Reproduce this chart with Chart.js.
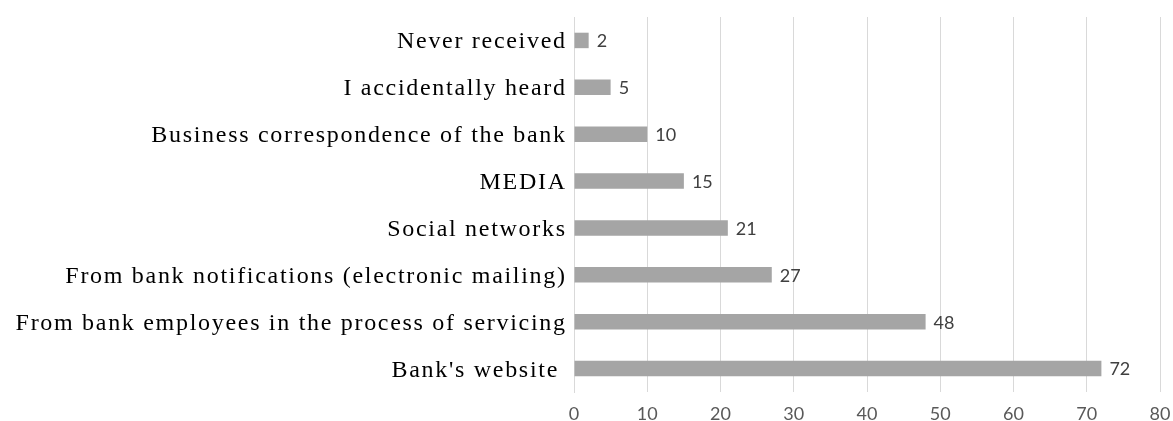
<!DOCTYPE html>
<html>
<head>
<meta charset="utf-8">
<script src="https://cdn.jsdelivr.net/npm/chart.js@4"></script>
<style>
    html, body { margin: 0; padding: 0; background: #fff; }
    #wrap { width: 1173px; height: 421px; position: relative; }
</style>
</head>
<body>
<div id="wrap"><canvas id="sourcesChart"></canvas></div>
<script>
const categories = [
    'Never received',
    'I accidentally heard',
    'Business correspondence of the bank',
    'MEDIA',
    'Social networks',
    'From bank notifications (electronic mailing)',
    'From bank employees in the process of servicing',
    "Bank's website "
];
const responses = [2, 5, 10, 15, 21, 27, 48, 72];
const xTicks = [0, 10, 20, 30, 40, 50, 60, 70, 80];

const LABEL_FONT = '24px "Liberation Serif", "Times New Roman", serif';
const NUM_FONT = '18px Lato, "Liberation Sans", sans-serif';
const TRACKING = 1.7;

// category names, drawn with a little tracking like the old office charts
const categoryLabels = {
    id: 'categoryLabels',
    afterDraw(chart) {
        const ctx = chart.ctx;
        const yScale = chart.scales.y;
        const right = chart.chartArea.left - 9;
        ctx.save();
        ctx.font = LABEL_FONT;
        ctx.letterSpacing = TRACKING + 'px';
        ctx.fillStyle = '#000';
        ctx.textAlign = 'right';
        ctx.textBaseline = 'alphabetic';
        categories.forEach((name, i) => {
            const y = yScale.getPixelForTick(i);
            ctx.fillText(name, right + TRACKING, y + 8);
        });
        ctx.restore();
    }
};

// value labels to the right of each bar
const valueLabels = {
    id: 'valueLabels',
    afterDatasetsDraw(chart) {
        const ctx = chart.ctx;
        const meta = chart.getDatasetMeta(0);
        ctx.save();
        ctx.font = NUM_FONT;
        ctx.fillStyle = '#404040';
        ctx.textAlign = 'left';
        ctx.textBaseline = 'middle';
        meta.data.forEach((bar, i) => {
            ctx.fillText(String(responses[i]), bar.x + 8, bar.y + 1);
        });
        ctx.restore();
    }
};

const ctx = document.getElementById('sourcesChart').getContext('2d');
new Chart(ctx, {
    type: 'bar',
    data: {
        labels: categories,
        datasets: [{
            data: responses,
            backgroundColor: '#a5a5a5',
            borderWidth: 0,
            categoryPercentage: 1,
            barPercentage: 0.33
        }]
    },
    options: {
        indexAxis: 'y',
        responsive: true,
        maintainAspectRatio: false,
        animation: false,
        layout: {
            padding: { top: 17, right: 13, left: 0, bottom: 0 }
        },
        plugins: {
            legend: { display: false },
            tooltip: { enabled: false }
        },
        scales: {
            x: {
                min: 0,
                max: 80,
                afterBuildTicks: (scale) => {
                    scale.ticks = xTicks.map(v => ({ value: v }));
                },
                afterFit: (scale) => {
                    scale.height = 29;
                    scale.paddingLeft = 0;
                    scale.paddingRight = 0;
                },
                grid: {
                    color: '#d9d9d9',
                    lineWidth: 1,
                    drawTicks: false
                },
                border: { display: false },
                ticks: {
                    color: '#595959',
                    padding: 11,
                    font: { family: 'Lato, "Liberation Sans", sans-serif', size: 18 }
                }
            },
            y: {
                afterFit: (scale) => { scale.width = 574; },
                grid: { display: false, drawTicks: false },
                border: { color: '#d9d9d9' },
                ticks: { display: false }
            }
        }
    },
    plugins: [valueLabels, categoryLabels]
});
</script>
</body>
</html>
